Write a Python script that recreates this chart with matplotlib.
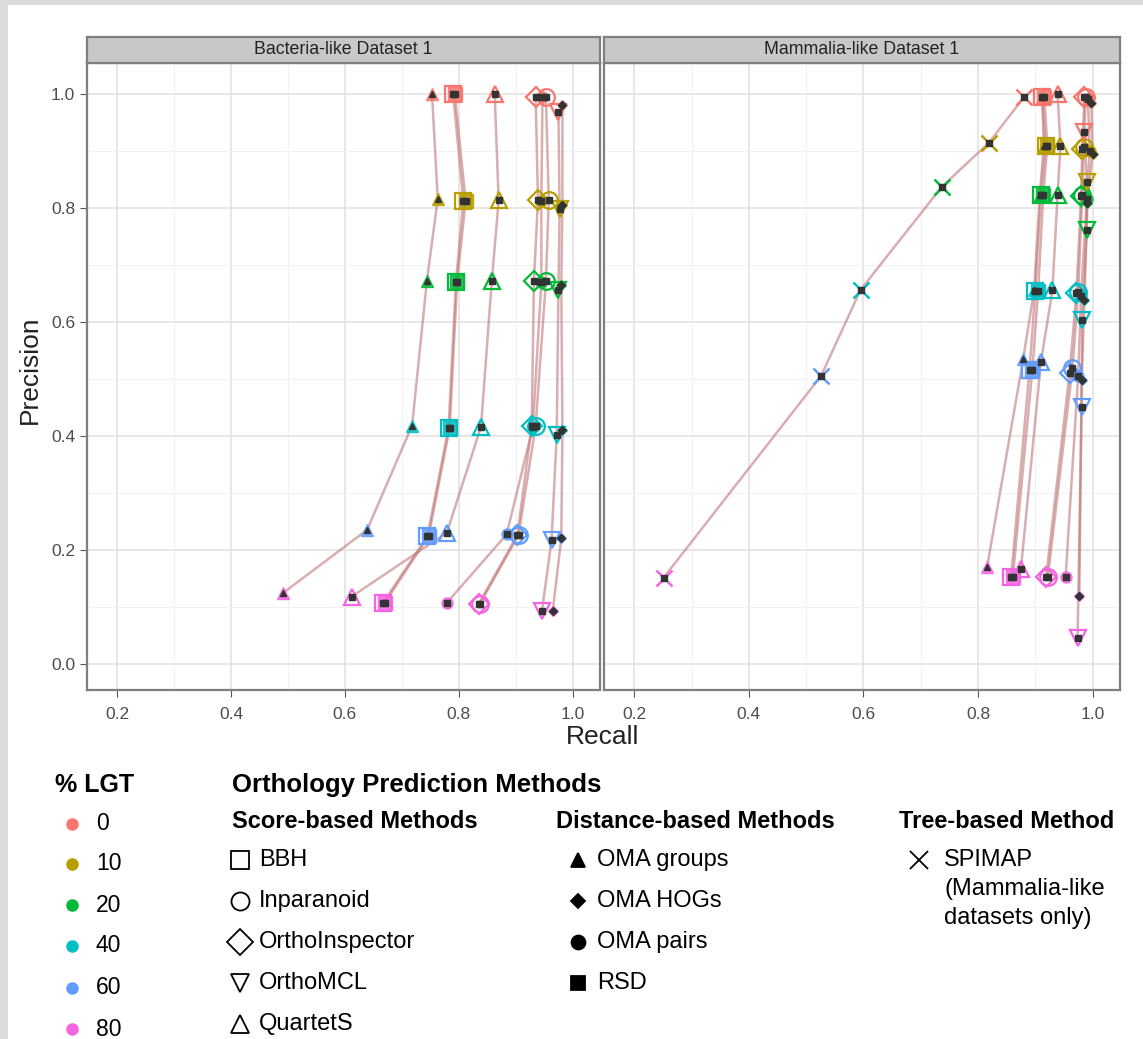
import numpy as np
import matplotlib
matplotlib.use("Agg")
import matplotlib.pyplot as plt
from matplotlib.patches import Rectangle
from matplotlib.lines import Line2D

plt.rcParams['font.family'] = ['Liberation Sans', 'DejaVu Sans']

# % LGT levels and their colours (ggplot hue palette)
lgt = [0, 10, 20, 40, 60, 80]
lgt_colors = ['#F8766D', '#B79F00', '#00BA38', '#00BFC4', '#619CFF', '#F564E3']

panels = ['Bacteria-like Dataset 1', 'Mammalia-like Dataset 1']

score_methods = ['BBH', 'Inparanoid', 'OrthoInspector', 'OrthoMCL', 'QuartetS']
distance_methods = ['OMA groups', 'OMA HOGs', 'OMA pairs', 'RSD']
tree_methods = ['SPIMAP']

# Bacteria-like dataset: recall / precision per method, ordered by lgt
bact_recall = {
    'BBH':            [0.790, 0.808, 0.795, 0.782, 0.745, 0.667],
    'Inparanoid':     [0.953, 0.958, 0.953, 0.935, 0.905, 0.837],
    'OrthoInspector': [0.935, 0.939, 0.932, 0.928, 0.903, 0.835],
    'OrthoMCL':       [0.975, 0.977, 0.975, 0.972, 0.963, 0.946],
    'QuartetS':       [0.863, 0.870, 0.858, 0.839, 0.779, 0.612],
    'OMA groups':     [0.753, 0.763, 0.744, 0.718, 0.639, 0.491],
    'OMA HOGs':       [0.982, 0.982, 0.980, 0.982, 0.980, 0.965],
    'OMA pairs':      [0.947, 0.945, 0.945, 0.930, 0.884, 0.779],
    'RSD':            [0.793, 0.812, 0.797, 0.784, 0.747, 0.670],
}
bact_precision = {
    'BBH':            [1.000, 0.812, 0.670, 0.414, 0.224, 0.107],
    'Inparanoid':     [0.995, 0.813, 0.671, 0.418, 0.226, 0.105],
    'OrthoInspector': [0.995, 0.813, 0.672, 0.417, 0.226, 0.105],
    'OrthoMCL':       [0.968, 0.797, 0.655, 0.402, 0.218, 0.092],
    'QuartetS':       [1.000, 0.813, 0.672, 0.416, 0.230, 0.118],
    'OMA groups':     [1.000, 0.815, 0.672, 0.418, 0.235, 0.124],
    'OMA HOGs':       [0.980, 0.805, 0.665, 0.410, 0.220, 0.093],
    'OMA pairs':      [0.995, 0.812, 0.670, 0.415, 0.227, 0.107],
    'RSD':            [1.000, 0.812, 0.670, 0.414, 0.224, 0.107],
}

# Mammalia-like dataset
mamm_recall = {
    'BBH':            [0.912, 0.918, 0.910, 0.900, 0.890, 0.858],
    'Inparanoid':     [0.988, 0.985, 0.982, 0.975, 0.965, 0.922],
    'OrthoInspector': [0.986, 0.982, 0.980, 0.972, 0.960, 0.919],
    'OrthoMCL':       [0.986, 0.990, 0.990, 0.982, 0.981, 0.974],
    'QuartetS':       [0.939, 0.944, 0.939, 0.930, 0.910, 0.875],
    'OMA groups':     [0.912, 0.915, 0.908, 0.898, 0.879, 0.816],
    'OMA HOGs':       [0.998, 1.000, 0.991, 0.986, 0.981, 0.977],
    'OMA pairs':      [0.992, 0.995, 0.990, 0.980, 0.975, 0.953],
    'RSD':            [0.916, 0.921, 0.914, 0.905, 0.895, 0.861],
    'SPIMAP':         [0.881, 0.819, 0.737, 0.595, 0.526, 0.251],
}
mamm_precision = {
    'BBH':            [0.995, 0.909, 0.823, 0.654, 0.516, 0.153],
    'Inparanoid':     [0.995, 0.906, 0.822, 0.652, 0.519, 0.152],
    'OrthoInspector': [0.995, 0.904, 0.820, 0.651, 0.510, 0.152],
    'OrthoMCL':       [0.933, 0.846, 0.761, 0.604, 0.451, 0.046],
    'QuartetS':       [1.000, 0.909, 0.823, 0.655, 0.530, 0.166],
    'OMA groups':     [0.995, 0.909, 0.823, 0.655, 0.535, 0.170],
    'OMA HOGs':       [0.984, 0.895, 0.809, 0.639, 0.498, 0.119],
    'OMA pairs':      [0.990, 0.900, 0.815, 0.645, 0.505, 0.152],
    'RSD':            [0.995, 0.909, 0.823, 0.654, 0.516, 0.153],
    'SPIMAP':         [0.995, 0.914, 0.837, 0.656, 0.505, 0.151],
}

# marker style per method: (marker, filled, size)
styles = {
    'BBH': ('s', False, 11),
    'Inparanoid': ('o', False, 12),
    'OrthoInspector': ('D', False, 10),
    'OrthoMCL': ('v', False, 12),
    'QuartetS': ('^', False, 12),
    'OMA groups': ('^', True, 8),
    'OMA HOGs': ('D', True, 5),
    'OMA pairs': ('o', True, 8),
    'RSD': ('s', True, 10),
    'SPIMAP': ('x', False, 11),
}

W, H = 1143, 1039
fig = plt.figure(figsize=(W / 100, H / 100), dpi=100)
fig.patch.set_facecolor('#dcdcdc')
fig.patches.append(Rectangle((8 / W, 0), 1, 1 - 5 / H, transform=fig.transFigure,
                             facecolor='white', edgecolor='none', zorder=-10))


def px(x, y):
    return x / W, 1 - y / H


# panel geometry in pixels
panel_x = [(87, 600), (604, 1120)]
top, bottom = 63, 690
strip_h = 26

datasets = [(bact_recall, bact_precision), (mamm_recall, mamm_precision)]

for i, (x0, x1) in enumerate(panel_x):
    ax = fig.add_axes([x0 / W, 1 - bottom / H, (x1 - x0) / W, (bottom - top) / H])
    ax.set_xlim(0.147, 1.048)
    ax.set_ylim(-0.046, 1.054)
    ax.set_xticks([0.2, 0.4, 0.6, 0.8, 1.0])
    ax.set_xticks([0.3, 0.5, 0.7, 0.9], minor=True)
    ax.set_yticks([0.0, 0.2, 0.4, 0.6, 0.8, 1.0])
    ax.set_yticks([0.1, 0.3, 0.5, 0.7, 0.9], minor=True)
    ax.grid(which='major', color='#e3e3e3', lw=1.2)
    ax.grid(which='minor', color='#f2f2f2', lw=0.8)
    ax.set_axisbelow(True)
    ax.tick_params(which='minor', length=0)
    ax.tick_params(which='major', length=5, color='#555555', labelsize=12.5,
                   labelcolor='#4d4d4d', width=0.8)
    ax.tick_params(axis='x', pad=7)
    ax.set_xticklabels(['0.2', '0.4', '0.6', '0.8', '1.0'])
    if i == 0:
        ax.set_yticklabels(['0.0', '0.2', '0.4', '0.6', '0.8', '1.0'])
    else:
        ax.tick_params(axis='y', left=False, labelleft=False)
    for sp in ax.spines.values():
        sp.set_color('#7f7f7f')
        sp.set_linewidth(1.6)

    recall, precision = datasets[i]
    # connecting lines per method across LGT levels
    for m in recall:
        ax.plot(recall[m], precision[m], color='#c07878', alpha=0.6, lw=1.8, zorder=2)
    # coloured markers
    for m in recall:
        mk, filled, ms = styles[m]
        for j in range(len(lgt)):
            c = lgt_colors[j]
            if filled:
                ax.plot(recall[m][j], precision[m][j], marker=mk, ms=ms, color=c,
                        mec=c, alpha=0.85, ls='none', zorder=3)
            else:
                ax.plot(recall[m][j], precision[m][j], marker=mk, ms=ms, mfc='none',
                        mec=c, mew=1.6 if mk != 'x' else 1.8, ls='none', zorder=3)
    # small dark points on top
    for m in recall:
        dk = '^' if m == 'OMA groups' else ('D' if m == 'OMA HOGs' else 's')
        ax.plot(recall[m], precision[m], marker=dk, ms=4, color='#333333',
                ls='none', zorder=4)

    # facet strip
    sax = fig.add_axes([x0 / W, 1 - top / H, (x1 - x0) / W, strip_h / H])
    sax.set_xticks([])
    sax.set_yticks([])
    sax.set_facecolor('#c8c8c8')
    for sp in sax.spines.values():
        sp.set_color('#7f7f7f')
        sp.set_linewidth(1.6)
    sax.text(0.5, 0.5, panels[i], ha='center', va='center', fontsize=12.8,
             color='#222222', transform=sax.transAxes)

fig.text(*px(603, 737), 'Recall', ha='center', va='center', fontsize=19, color='#222222')
fig.text(*px(30, 370), 'Precision', ha='center', va='center', fontsize=19,
         rotation=90, color='#222222')

# legend: % LGT
fig.text(*px(55, 785), '% LGT', ha='left', va='center', fontsize=18, weight='bold')
legend_rows = [824, 864, 905, 946, 988, 1029]
for j in range(len(lgt)):
    fig.add_artist(Line2D([72 / W], [1 - legend_rows[j] / H], marker='o', ms=8,
                          color=lgt_colors[j], ls='none', transform=fig.transFigure))
    fig.text(*px(96, legend_rows[j]), str(lgt[j]), ha='left', va='center', fontsize=16.5)

# legend: methods
fig.text(*px(232, 785), 'Orthology Prediction Methods', ha='left', va='center',
         fontsize=18.5, weight='bold')
groups = [('Score-based Methods', score_methods, 232, 240, 259),
          ('Distance-based Methods', distance_methods, 556, 578, 597),
          ('Tree-based Method', tree_methods, 899, 919, 944)]
item_rows = [860, 901, 942, 983, 1024]
for title, meths, tx, mx, lx in groups:
    fig.text(*px(tx, 821), title, ha='left', va='center', fontsize=17, weight='bold')
    for k, m in enumerate(meths):
        mk, filled, ms = styles[m]
        y = item_rows[k]
        lms = 7 if m == 'OMA HOGs' else 13
        if m == 'OMA groups' or m == 'OMA pairs' or m == 'RSD':
            lms = 10
        fig.add_artist(Line2D([mx / W], [1 - y / H], marker=mk, ms=lms,
                              mfc='black' if filled else 'none', mec='black',
                              mew=1.3, ls='none', transform=fig.transFigure))
        if m == 'SPIMAP':
            lines = ['SPIMAP', '(Mammalia-like', 'datasets only)']
            for n, t in enumerate(lines):
                fig.text(*px(lx, y + 29 * n), t, ha='left', va='center', fontsize=17)
        else:
            fig.text(*px(lx, y), m, ha='left', va='center', fontsize=17)

fig.savefig('out.png', dpi=100)
